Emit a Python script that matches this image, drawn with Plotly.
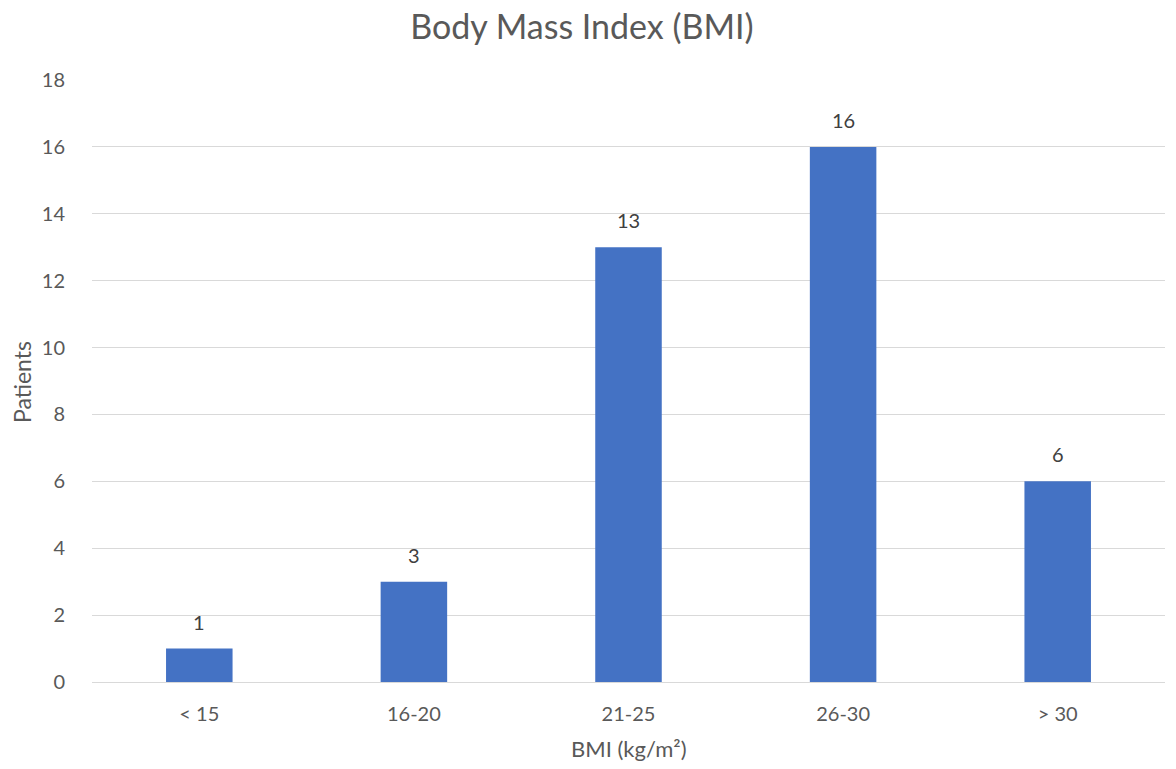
import plotly.graph_objects as go

categories = ["< 15", "16-20", "21-25", "26-30", "> 30"]
patients = [1, 3, 13, 16, 6]
y_ticks = [0, 2, 4, 6, 8, 10, 12, 14, 16, 18]

FONT = "Lato, Carlito, Calibri, sans-serif"
GRAY = "#595959"

W, H = 1176, 769
L, R, T, B = 92, 11, 80, 87
PW, PH = W - L - R, H - T - B

fig = go.Figure(
    go.Bar(
        x=categories,
        y=patients,
        marker=dict(color="#4472C4", line=dict(width=0)),
        cliponaxis=False,
        hoverinfo="x+y",
    )
)

label_annotations = [
    dict(x=c, y=v, xref="x", yref="y", text=str(v), showarrow=False,
         yanchor="middle", xanchor="center", yshift=27,
         font=dict(family=FONT, size=20, color="#404040"))
    for c, v in zip(categories, patients)
]

fig.update_layout(
    width=W,
    height=H,
    margin=dict(l=L, r=R, t=T, b=B),
    paper_bgcolor="white",
    plot_bgcolor="white",
    bargap=0.69,
    showlegend=False,
    font=dict(family=FONT, color=GRAY),
    title=dict(
        text="Body Mass Index (BMI)",
        x=582 / W, xanchor="center", xref="container",
        y=1 - 27 / H, yanchor="middle", yref="container",
        font=dict(family=FONT, size=34, color=GRAY),
    ),
    xaxis=dict(
        showgrid=False,
        showline=True,
        linecolor="#D9D9D9",
        linewidth=1,
        ticks="outside",
        ticklen=14,
        tickcolor="rgba(0,0,0,0)",
        tickfont=dict(family=FONT, size=20, color=GRAY),
    ),
    yaxis=dict(
        range=[0, 18],
        tickvals=y_ticks,
        showgrid=True,
        gridcolor="#D9D9D9",
        gridwidth=1,
        zeroline=False,
        showline=False,
        ticks="outside",
        ticklen=22,
        tickcolor="rgba(0,0,0,0)",
        tickfont=dict(family=FONT, size=20, color=GRAY),
    ),
    annotations=[
        dict(text="BMI (kg/m²)", x=0.5, xref="paper", y=(H - B - 748) / PH, yref="paper",
             yanchor="middle", xanchor="center", showarrow=False,
             font=dict(family=FONT, size=22, color=GRAY)),
        dict(text="Patients", x=(22 - L) / PW, xref="paper", y=(H - B - 382) / PH, yref="paper",
             xanchor="center", yanchor="middle", textangle=-90, showarrow=False,
             font=dict(family=FONT, size=23, color=GRAY)),
    ] + label_annotations,
)

fig.write_html("out.html")
